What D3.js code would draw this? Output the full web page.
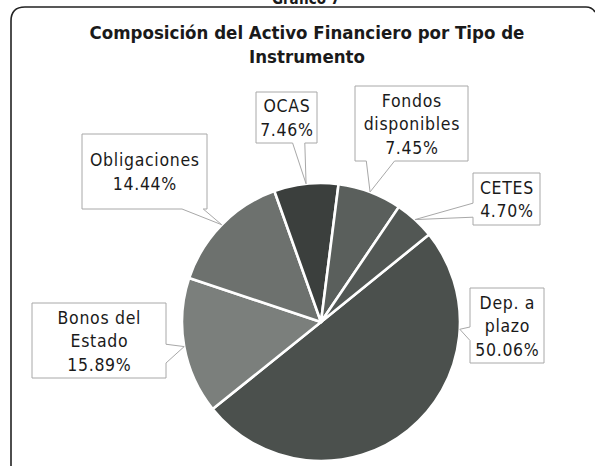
<!DOCTYPE html>
<html><head><meta charset="utf-8">
<script src="https://cdn.jsdelivr.net/npm/d3@7"></script>
<style>
body{margin:0;background:#fff;}
svg{display:block;}
text{font-family:"DejaVu Sans Condensed","DejaVu Sans",sans-serif;fill:#1a1a1a;}
</style></head>
<body><svg id="chart" width="595" height="468"></svg>
<script>
// ---- data ----
const categories = ["Dep. a plazo","Bonos del Estado","Obligaciones","OCAS","Fondos disponibles","CETES"];
const values = [50.06, 15.89, 14.44, 7.46, 7.45, 4.70];
const labelLines = [["Dep. a","plazo"],["Bonos del","Estado"],["Obligaciones"],["OCAS"],["Fondos","disponibles"],["CETES"]];
const colors = ["#4b504d","#7b7f7c","#6d716e","#3b3f3d","#5a5f5c","#525754"];
const chartTitle = ["Composición del Activo Financiero por Tipo de","Instrumento"];
const chartNumber = "Gráfico 7";

// ---- layout ----
const svg = d3.select("#chart");
const cx = 321, cy = 322, R = 139;
const startDeg = 51;

// frame
svg.append("path")
  .attr("d","M11,466 L11,21 Q11,7 25,7 L586,7 Q592,7 595,12")
  .attr("fill","none").attr("stroke","#222").attr("stroke-width",1.6);

svg.append("text").attr("x",306).attr("y",4).attr("text-anchor","middle")
  .style("font-weight","bold").style("font-size","15px").text(chartNumber);

svg.selectAll("text.title").data(chartTitle).join("text").attr("class","title")
  .attr("x",307).attr("y",(d,i)=>39+i*24).attr("text-anchor","middle")
  .style("font-weight","bold").style("font-size","18.5px").text(d=>d);

const pie = d3.pie().sort(null).value(d=>d)
  .startAngle(startDeg*Math.PI/180).endAngle(startDeg*Math.PI/180+2*Math.PI);
const arcs = pie(values);
const arc = d3.arc().innerRadius(0).outerRadius(R);

const g = svg.append("g").attr("transform",`translate(${cx},${cy})`);
g.selectAll("path").data(arcs).join("path")
  .attr("d",arc).attr("fill",(d,i)=>colors[i])
  .attr("stroke","#fff").attr("stroke-width",2.6).attr("stroke-linejoin","round");

// callout boxes: [x,y,w,h, side, baseA, baseB, tipAngleOverride]
const boxes = [
  {x:470,y:288,w:74,h:75, side:"left",  a:0.52,b:0.70, tip:93},
  {x:32, y:303,w:134,h:75, side:"right", a:0.55,b:0.80},
  {x:82, y:134,w:125,h:75, side:"bottom",a:0.80,b:0.97},
  {x:256,y:92, w:61, h:51, side:"bottom",a:0.60,b:0.80},
  {x:355,y:86, w:113,h:75, side:"bottom",a:0.10,b:0.35},
  {x:473,y:173,w:67, h:52, side:"left",  a:0.58,b:0.85}
];

function calloutPath(b, tx, ty){
  const x0=b.x, y0=b.y, x1=b.x+b.w, y1=b.y+b.h;
  const p = [];
  p.push([x0,y0]); p.push([x1,y0]);
  if(b.side==="right"){ p.push([x1,y0+b.a*b.h]); p.push([tx,ty]); p.push([x1,y0+b.b*b.h]); }
  p.push([x1,y1]);
  if(b.side==="bottom"){ p.push([x0+b.b*b.w,y1]); p.push([tx,ty]); p.push([x0+b.a*b.w,y1]); }
  p.push([x0,y1]);
  if(b.side==="left"){ p.push([x0,y0+b.b*b.h]); p.push([tx,ty]); p.push([x0,y0+b.a*b.h]); }
  return "M"+p.map(q=>q.join(",")).join("L")+"Z";
}

const lab = svg.append("g");
arcs.forEach((d,i)=>{
  const b = boxes[i];
  const ang = b.tip!==undefined ? b.tip*Math.PI/180 : (d.startAngle+d.endAngle)/2;
  const tx = cx + R*Math.sin(ang), ty = cy - R*Math.cos(ang);
  lab.append("path").attr("d",calloutPath(b,tx,ty))
    .attr("fill","#fff").attr("stroke","#a8a8a8").attr("stroke-width",1);
  const lines = labelLines[i].concat([values[i].toFixed(2)+"%"]);
  const lh = 23.5;
  const firstY = b.y + b.h/2 - (lines.length-1)*lh/2 + 6.5;
  lines.forEach((t,k)=>{
    lab.append("text").attr("x",b.x+b.w/2+0.4).attr("y",firstY+k*lh)
      .attr("text-anchor","middle").style("font-size","17.5px").style("letter-spacing","0.7px").text(t);
  });
});
</script></body></html>
